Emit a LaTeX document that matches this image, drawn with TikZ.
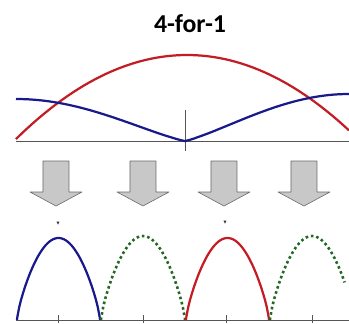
\documentclass[tikz,border=0pt]{standalone}
\usepackage{fontspec}
\setsansfont{Carlito}
\usepackage{tikz}
\usetikzlibrary{calc}
\definecolor{lobered}{RGB}{195,28,36}
\definecolor{lobeblue}{RGB}{25,25,140}
\definecolor{lobegreen}{RGB}{35,105,35}
\definecolor{axisgray}{HTML}{555555}
\definecolor{arrowfill}{RGB}{200,200,200}
\definecolor{arrowedge}{RGB}{105,105,105}

\begin{document}
\begin{tikzpicture}[x=0.3mm, y=-0.3mm, font=\sffamily,
  axisline/.style={axisgray, line width=0.8pt},
  solidlobe/.style={line width=1.9pt, line join=round},
  dotlobe/.style={lobegreen, line width=2.2pt, dash pattern=on 2.2pt off 2.4pt},
  downarrow/.style={fill=arrowfill, draw=arrowedge, line width=0.5pt, line join=round},
  peakmark/.style={fill=black!80}]

\useasboundingbox (0,0) rectangle (349,323);

\def\Lx{16}        % left end of both axes (px)
\def\Rx{349}       % right end
\def\Cx{185}       % centre of the upper panel
\def\topY{141}     % upper axis height
\def\botY{320}     % lower axis height

% --- Title ---
\node[font=\sffamily\bfseries\fontsize{22}{24}\selectfont] (title) at (190,24) {4-for-1};

% --- Upper panel: one wide lobe and its V-shaped partner ---
\draw[axisline] (\Lx,\topY) -- (\Rx,\topY);
\draw[axisline] (\Cx,110) -- (\Cx,151);

\draw[lobered, solidlobe] plot[domain=\Lx:\Rx, samples=60]
  (\x, {\topY-86*(1-((\x-187)/173)^2)});

% V: rises as sin^1.2 away from the centre
\draw[lobeblue, solidlobe]
  plot[domain=90:0.5, samples=40] ({\Cx-169*\x/90}, {\topY-42*(sin(\x))^1.2})
  -- (\Cx,\topY)
  -- plot[domain=0.5:90, samples=40] ({\Cx+164*\x/90}, {\topY-47*(sin(\x))^1.2});

% --- Four block arrows ---
\foreach \cx in {56,143,224,304}{
  \draw[downarrow] (\cx-13,161) -- (\cx+13,161) -- (\cx+13,192) -- (\cx+26,192)
    -- (\cx,206) -- (\cx-26,192) -- (\cx-13,192) -- cycle;
}

% --- Lower panel: four narrow lobes ---
\draw[axisline] (\Lx,\botY) -- (\Rx,\botY);
\foreach \tx in {58,143,226,312}{
  \draw[axisline] (\tx,315) -- (\tx,323);
}

% lobe: start x, width, peak height
\draw[lobeblue, solidlobe] (17,\botY) -- plot[domain=0.5:179.5, samples=45]
  ({17+83*\x/180}, {\botY-82*(sin(\x))^0.75}) -- (100,\botY);
\draw[dotlobe] (101,\botY) -- plot[domain=0.5:179.5, samples=45]
  ({101+84*\x/180}, {\botY-84*(sin(\x))^0.75}) -- (185,\botY);
\draw[lobered, solidlobe] (186,\botY) -- plot[domain=0.5:179.5, samples=45]
  ({186+83*\x/180}, {\botY-82*(sin(\x))^0.75}) -- (269,\botY);
\draw[dotlobe] (270,\botY) -- plot[domain=0.5:160, samples=40]
  ({270+84*\x/180}, {\botY-84*(sin(\x))^0.75});

% tiny peak marks
\fill[peakmark] (56.5,221.5) -- (59.5,221.5) -- (58,224.5) -- cycle;
\fill[peakmark] (223.5,220.5) -- (226.5,220.5) -- (225,223.5) -- cycle;

\end{tikzpicture}
\end{document}
